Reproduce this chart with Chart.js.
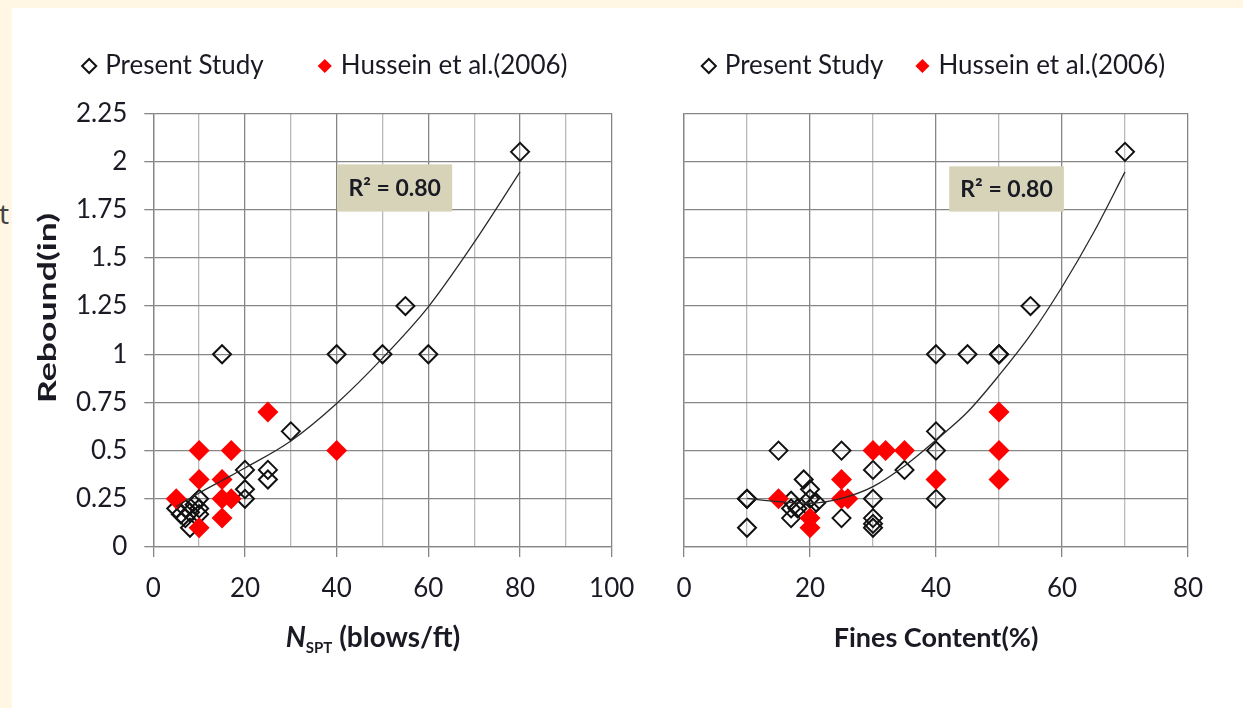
<!DOCTYPE html>
<html>
<head>
<meta charset="utf-8">
<script src="https://cdn.jsdelivr.net/npm/chart.js@4.4.1/dist/chart.umd.min.js"></script>
<style>
  html, body { margin: 0; padding: 0; }
  body { width: 1243px; height: 708px; background: #fff7e3; position: relative; overflow: hidden; }
  #panel { position: absolute; left: 12px; top: 8px; width: 1231px; height: 700px; background: #ffffff; }
  #edge { position: absolute; left: -1px; top: 194px; font: 28px 'Noto Sans', sans-serif; color: #444; }
  .box { position: absolute; top: 8px; height: 700px; }
  #leftBox { left: 12px; width: 633px; }
  #rightBox { left: 645px; width: 578px; }
</style>
</head>
<body>
<div id="panel"></div>
<div id="edge">t</div>
<div class="box" id="leftBox"><canvas id="cLeft" width="633" height="700"></canvas></div>
<div class="box" id="rightBox"><canvas id="cRight" width="578" height="700"></canvas></div>
<script>
// ---- Rebound vs N_SPT ----
const nsptPresentX = [80, 55, 15, 40, 50, 60, 30, 25, 25, 20, 20, 20, 5, 6, 7, 7, 8, 8, 9, 10, 10, 10];
const nsptPresentY = [2.05, 1.25, 1.0, 1.0, 1.0, 1.0, 0.6, 0.4, 0.35, 0.4, 0.3, 0.25, 0.2, 0.17, 0.15, 0.2, 0.1, 0.18, 0.22, 0.25, 0.17, 0.2];
const nsptHusseinX = [25, 40, 10, 17, 10, 15, 5, 15, 17, 15, 10];
const nsptHusseinY = [0.7, 0.5, 0.5, 0.5, 0.35, 0.35, 0.25, 0.25, 0.25, 0.15, 0.1];
const nsptTrendX = [5, 10, 15, 20, 30, 40, 50, 60, 70, 80];
const nsptTrendY = [0.21, 0.28, 0.345, 0.41, 0.55, 0.745, 0.98, 1.246, 1.58, 1.946];
const nsptTickLabels = [0, 20, 40, 60, 80, 100];

// ---- Rebound vs fines content ----
const finesPresentX = [70, 55, 40, 45, 50, 50, 10, 10, 10, 15, 25, 30, 30, 30, 30, 30, 25, 35, 40, 40, 40, 17, 17, 17, 18, 19, 20, 20, 20, 21];
const finesPresentY = [2.05, 1.25, 1.0, 1.0, 1.0, 1.0, 0.25, 0.25, 0.1, 0.5, 0.5, 0.4, 0.25, 0.15, 0.12, 0.1, 0.15, 0.4, 0.6, 0.5, 0.25, 0.24, 0.2, 0.15, 0.2, 0.35, 0.3, 0.25, 0.2, 0.23];
const finesHusseinX = [50, 50, 50, 40, 30, 32, 35, 25, 25, 26, 15, 20, 20];
const finesHusseinY = [0.7, 0.5, 0.35, 0.35, 0.5, 0.5, 0.5, 0.35, 0.25, 0.25, 0.25, 0.15, 0.1];
const finesTrendX = [10, 15, 20, 25, 30, 35, 40, 45, 50, 55, 60, 65, 70];
const finesTrendY = [0.252, 0.235, 0.227, 0.252, 0.313, 0.42, 0.555, 0.70, 0.89, 1.10, 1.349, 1.63, 1.946];
const finesTickLabels = [0, 20, 40, 60, 80];

// ---- shared y axis ----
const reboundTickLabels = ['0', '0.25', '0.5', '0.75', '1', '1.25', '1.5', '1.75', '2', '2.25'];
const seriesNames = ['Present Study', 'Hussein et al.(2006)'];
const r2Text = 'R\u00b2 = 0.80';

const INK = '#1a1a24';
const GRID_MAJOR = '#868686';
const GRID_MINOR = '#bababa';
const LEGEND_FONT = 26;
const PLOT_TOP = 105.3;

const pts = (xs, ys) => xs.map((x, i) => ({ x, y: ys[i] }));

// moves the legend row to a fixed centre after layout
const legendPlace = {
  id: 'legendPlace',
  afterLayout(chart, args, o) {
    const lg = chart.legend;
    if (!lg || o.centerY == null) return;
    const cur = lg.top + lg.options.labels.padding + o.fontSize / 2;
    const d = o.centerY - cur;
    lg.top += d;
    lg.bottom += d;
    lg.left += o.dx || 0;
    lg.right += o.dx || 0;
  }
};

// shaded R² label anchored in data coordinates
const r2Box = {
  id: 'r2Box',
  beforeDatasetsDraw(chart, args, o) {
    if (!o.x) return;
    const { ctx, scales: { x, y } } = chart;
    const x0 = x.getPixelForValue(o.x[0]), x1 = x.getPixelForValue(o.x[1]);
    const y0 = y.getPixelForValue(o.y[1]), y1 = y.getPixelForValue(o.y[0]);
    ctx.save();
    ctx.fillStyle = '#d7d3b8';
    ctx.fillRect(x0, y0, x1 - x0, y1 - y0);
    ctx.fillStyle = INK;
    ctx.font = 'bold 23px Lato';
    ctx.textAlign = 'center';
    ctx.textBaseline = 'middle';
    ctx.fillText(o.text, (x0 + x1) / 2, (y0 + y1) / 2 + 1);
    ctx.restore();
  }
};

// rotated y title and the N_SPT title with its subscript
const axisTitles = {
  id: 'axisTitles',
  afterDraw(chart, args, o) {
    const ctx = chart.ctx;
    ctx.save();
    ctx.fillStyle = INK;
    if (o.yTitle) {
      ctx.save();
      ctx.translate(o.yTitle.x, o.yTitle.y);
      ctx.rotate(-Math.PI / 2);
      ctx.font = 'bold 25px Lato';
      const w = ctx.measureText(o.yTitle.text).width;
      ctx.scale(o.yTitle.len / w, 1);
      ctx.textAlign = 'center';
      ctx.textBaseline = 'middle';
      ctx.fillText(o.yTitle.text, 0, 0);
      ctx.restore();
    }
    if (o.xParts) {
      let total = 0;
      o.xParts.forEach(p => { ctx.font = p.font; p.w = ctx.measureText(p.t).width; total += p.w; });
      let cx = o.xCenter - total / 2;
      ctx.textAlign = 'left';
      ctx.textBaseline = 'alphabetic';
      o.xParts.forEach(p => {
        ctx.font = p.font;
        ctx.fillText(p.t, cx, o.xBaseline + p.dy);
        cx += p.w;
      });
    }
    ctx.restore();
  }
};

function buildChart(id, cfg) {
  const majorStep = 20;
  // legend box height = font + label padding + 10, so the plot top stays fixed
  const padTop = PLOT_TOP - (LEGEND_FONT + cfg.legendGap + 10);
  return new Chart(document.getElementById(id), {
    type: 'scatter',
    data: {
      datasets: [
        {
          label: seriesNames[0],
          data: cfg.present,
          pointStyle: 'rectRot',
          pointRadius: 9,
          borderWidth: 2,
          pointBorderWidth: 2,
          borderColor: '#111111',
          backgroundColor: 'rgba(0,0,0,0)',
          order: 2
        },
        {
          label: seriesNames[1],
          data: cfg.hussein,
          pointStyle: 'rectRot',
          pointRadius: 10.5,
          borderWidth: 0,
          pointBorderWidth: 0,
          borderColor: '#ff0000',
          backgroundColor: '#ff0000',
          order: 1
        },
        {
          label: 'trend',
          data: cfg.trend,
          showLine: true,
          pointRadius: 0,
          borderColor: '#2a2a2a',
          borderWidth: 1.3,
          cubicInterpolationMode: 'monotone',
          order: 0
        }
      ]
    },
    options: {
      responsive: false,
      animation: false,
      events: [],
      layout: { padding: { top: padTop, left: 0, right: cfg.padRight, bottom: 0 } },
      scales: {
        x: {
          type: 'linear',
          min: 0,
          max: cfg.xMax,
          afterFit: s => { s.height = 161; s.paddingLeft = 0; s.paddingRight = 0; },
          ticks: {
            stepSize: 10,
            autoSkip: false,
            maxRotation: 0,
            padding: 16,
            color: INK,
            font: { family: 'Lato', size: 26 },
            callback: v => cfg.xLabels.includes(v) ? String(v) : ''
          },
          grid: {
            lineWidth: 1.3,
            tickLength: 10,
            color: c => (c.tick && c.tick.value % majorStep === 0) ? GRID_MAJOR : GRID_MINOR,
            tickColor: c => (c.tick && c.tick.value % majorStep === 0) ? GRID_MAJOR : 'rgba(0,0,0,0)'
          },
          border: { display: true, color: GRID_MAJOR, width: 1.3 },
          title: cfg.xTitle
        },
        y: {
          type: 'linear',
          min: 0,
          max: 2.25,
          afterFit: s => { s.width = cfg.yWidth; },
          ticks: {
            display: cfg.yLabels,
            stepSize: 0.25,
            padding: 17,
            color: INK,
            font: { family: 'Lato', size: 26 },
            callback: (v, i) => reboundTickLabels[i]
          },
          grid: {
            lineWidth: 1.3,
            color: GRID_MAJOR,
            tickLength: cfg.yLabels ? 9 : 0,
            drawTicks: cfg.yLabels
          },
          border: { display: true, color: GRID_MAJOR, width: 1.3 }
        }
      },
      plugins: {
        tooltip: { enabled: false },
        legend: {
          position: 'top',
          labels: {
            usePointStyle: true,
            boxWidth: 6,
            boxHeight: 10,
            padding: cfg.legendGap,
            color: INK,
            font: { family: 'Lato', size: LEGEND_FONT },
            filter: item => item.datasetIndex < 2,
            sort: (a, b) => a.datasetIndex - b.datasetIndex
          }
        },
        legendPlace: { centerY: 58, fontSize: LEGEND_FONT, dx: cfg.legendDx },
        r2Box: cfg.r2,
        axisTitles: cfg.titles
      }
    },
    plugins: [legendPlace, r2Box, axisTitles]
  });
}

buildChart('cLeft', {
  present: pts(nsptPresentX, nsptPresentY),
  hussein: pts(nsptHusseinX, nsptHusseinY),
  trend: pts(nsptTrendX, nsptTrendY),
  xMax: 100,
  xLabels: nsptTickLabels,
  yLabels: true,
  yWidth: 141.3,
  padRight: 33.3,
  legendGap: 58,
  legendDx: 15,
  xTitle: { display: false },
  r2: { x: [40.1, 65.2], y: [1.74, 1.985], text: r2Text },
  titles: {
    yTitle: { text: 'Rebound(in)', x: 36, y: 300, len: 190 },
    xParts: [
      { t: 'N', font: 'italic bold 28px Lato', dy: 0 },
      { t: 'SPT', font: 'bold 15px Lato', dy: 6 },
      { t: ' (blows/ft)', font: 'bold 28px Lato', dy: 0 }
    ],
    xCenter: 361,
    xBaseline: 639
  }
});

buildChart('cRight', {
  present: pts(finesPresentX, finesPresentY),
  hussein: pts(finesHusseinX, finesHusseinY),
  trend: pts(finesTrendX, finesTrendY),
  xMax: 80,
  xLabels: finesTickLabels,
  yLabels: false,
  yWidth: 39,
  padRight: 35,
  legendGap: 36,
  legendDx: 19,
  xTitle: {
    display: true,
    text: 'Fines Content(%)',
    color: INK,
    font: { family: 'Lato', size: 27, weight: 'bold' },
    padding: { top: 0, bottom: 54 }
  },
  r2: { x: [42.1, 60.3], y: [1.74, 1.975], text: r2Text },
  titles: {}
});
</script>
</body>
</html>
